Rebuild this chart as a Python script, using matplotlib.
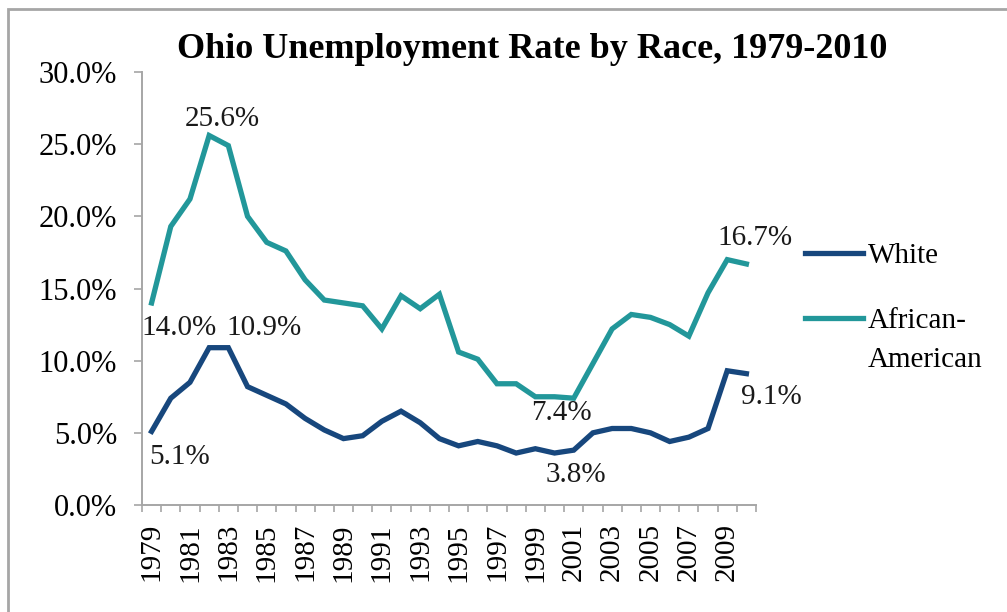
import matplotlib
matplotlib.use('Agg')
from matplotlib import pyplot as plt
from matplotlib.patches import Rectangle
from matplotlib.ticker import PercentFormatter, FixedLocator
import numpy as np

plt.rcParams['font.family'] = ['Liberation Serif', 'DejaVu Serif']

# Ohio unemployment rate (%) by race
years = list(range(1979, 2011))
white = [5.1, 7.4, 8.5, 10.9, 10.9, 8.2, 7.6, 7.0, 6.0, 5.2, 4.6, 4.8, 5.8, 6.5,
         5.7, 4.6, 4.1, 4.4, 4.1, 3.6, 3.9, 3.6, 3.8, 5.0, 5.3, 5.3, 5.0, 4.4,
         4.7, 5.3, 9.3, 9.1]
african_american = [14.0, 19.3, 21.2, 25.6, 24.9, 20.0, 18.2, 17.6, 15.6, 14.2,
                    14.0, 13.8, 12.2, 14.5, 13.6, 14.6, 10.6, 10.1, 8.4, 8.4,
                    7.5, 7.5, 7.4, 9.8, 12.2, 13.2, 13.0, 12.5, 11.7, 14.7,
                    17.0, 16.7]
tick_years = years[::2]

WHITE_C = '#17477d'
AA_C = '#22979a'
GRID_C = '#a6a6a6'

fig = plt.figure(figsize=(10.07, 6.12), dpi=100)
ax = fig.add_axes([142 / 1007, 1 - 505 / 612, (756 - 142) / 1007, (505 - 72) / 612])

x = np.arange(len(years))
ax.plot(x, white, color=WHITE_C, lw=3.8, solid_joinstyle='miter', label='White')
ax.plot(x, african_american, color=AA_C, lw=3.8, solid_joinstyle='miter', label='African-')

ax.set_xlim(-0.5, len(years) - 0.5)
ax.set_ylim(0, 30)
ax.set_yticks(np.arange(0, 31, 5))
ax.yaxis.set_major_formatter(PercentFormatter(decimals=1))

ax.xaxis.set_major_locator(FixedLocator([years.index(y) for y in tick_years]))
ax.set_xticklabels([str(y) for y in tick_years], rotation=90)
ax.xaxis.set_minor_locator(FixedLocator(np.arange(-0.5, len(years), 1)))
ax.tick_params(axis='x', which='major', length=0, pad=13, labelsize=21)
ax.tick_params(axis='x', which='minor', length=5, width=1.2, color=GRID_C, direction='out')
ax.tick_params(axis='y', length=6, width=1.2, color=GRID_C, pad=12, labelsize=22)

for side in ('top', 'right'):
    ax.spines[side].set_visible(False)
for side in ('left', 'bottom'):
    ax.spines[side].set_color(GRID_C)
    ax.spines[side].set_linewidth(1.4)

# value label for one year of a series, centred at a pixel offset from the point
def label(values, year, dx, dy):
    i = years.index(year)
    ax.annotate(f'{values[i]:.1f}%', (i, values[i]), xytext=(dx, dy),
                textcoords='offset pixels', ha='center', va='center',
                fontsize=21, color='#1a1a1a')

label(african_american, 1982, 13, 17)
label(african_american, 1979, 27, -25)
label(african_american, 2001, -12, -15)
label(african_american, 2010, 9, 26)
label(white, 1979, 28, -26)
label(white, 1983, 36, 20)
label(white, 2001, 2, -25)
label(white, 2010, 25, -23)

fig.text(532 / 1007, 1 - 50 / 612, 'Ohio Unemployment Rate by Race, 1979-2010',
         ha='center', va='center', fontsize=26, fontweight='bold')

leg = ax.legend(loc='upper left', bbox_to_anchor=(805 / 1007, 1 - 243 / 612),
                bbox_transform=fig.transFigure, frameon=False, fontsize=21,
                handlelength=2.0, handletextpad=0.15, borderpad=0,
                borderaxespad=0, labelspacing=1.3)
# second line of the African-American entry, hung under its first line
ax.annotate('American', xy=(0, 0), xycoords=leg.get_texts()[1],
            xytext=(0, -13), textcoords='offset pixels', ha='left', va='top',
            fontsize=21, zorder=6)

# chart frame (only left and top edges fall inside the image)
fig.patches.append(Rectangle((8 / 1007, -0.2), 1.5, 1.2 - 9 / 612, fill=False,
                             edgecolor=GRID_C, lw=2, transform=fig.transFigure,
                             figure=fig))

fig.canvas.draw()
fig.savefig('out.png', dpi=100)
